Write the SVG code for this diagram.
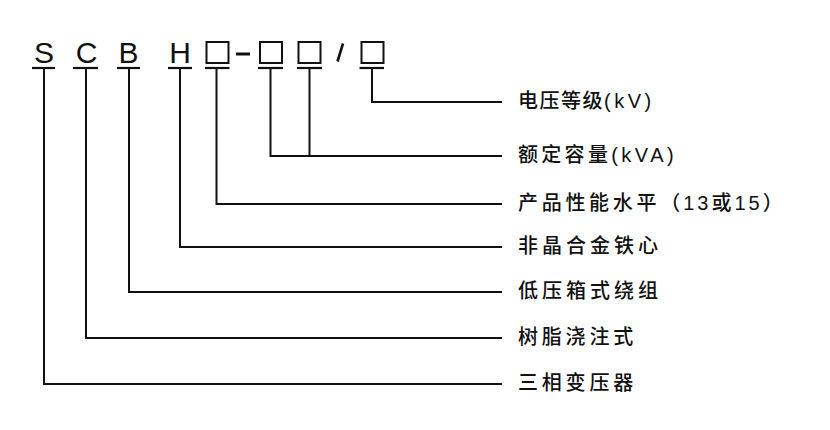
<svg xmlns="http://www.w3.org/2000/svg" width="830" height="430" viewBox="0 0 830 430">
<style>
.code{font-family:"Liberation Sans",Arial,sans-serif;font-size:30px;fill:#111;text-anchor:middle}
.lbl{font-family:"Liberation Sans","Noto Sans CJK SC",sans-serif;font-size:20px;font-weight:500;fill:#111;letter-spacing:4px}
.asc{letter-spacing:3.5px}
.ul{stroke:#111;stroke-width:2.2;fill:none}
.box{stroke:#111;stroke-width:2;fill:none}
.conn{stroke:#111;stroke-width:2;fill:none;stroke-linejoin:miter}
</style>
<rect width="830" height="430" fill="#fff"/>
<g id="code-S"><text class="code" x="44" y="63">S</text><line class="ul" x1="32" y1="68" x2="55" y2="68"/></g>
<g id="code-C"><text class="code" x="86.5" y="63">C</text><line class="ul" x1="73" y1="68" x2="98" y2="68"/></g>
<g id="code-B"><text class="code" x="128.5" y="63">B</text><line class="ul" x1="117" y1="68" x2="140" y2="68"/></g>
<g id="code-H"><text class="code" x="180" y="63">H</text><line class="ul" x1="168" y1="68" x2="192" y2="68"/></g>
<g id="code-box1"><rect class="box" x="206.5" y="42" width="22" height="21"/><line class="ul" x1="205" y1="68" x2="229.5" y2="68"/></g>
<g id="code-dash"><line x1="236" y1="54" x2="250" y2="54" stroke="#111" stroke-width="3"/></g>
<g id="code-box2"><rect class="box" x="260" y="42" width="22" height="21"/><line class="ul" x1="258" y1="68" x2="283" y2="68"/></g>
<g id="code-box3"><rect class="box" x="298.5" y="42" width="22" height="21"/><line class="ul" x1="297" y1="68" x2="322" y2="68"/></g>
<g id="code-slash"><line x1="343" y1="43.5" x2="337.5" y2="61.5" stroke="#111" stroke-width="2.6"/></g>
<g id="code-box4"><rect class="box" x="361.5" y="42" width="22" height="21"/><line class="ul" x1="359.5" y1="68" x2="384" y2="68"/></g>

<g id="connectors">
<polyline class="conn" points="372,68 372,102 502,102"/>
<polyline class="conn" points="270.5,68 270.5,156 502,156"/>
<line class="conn" x1="309.5" y1="68" x2="309.5" y2="156"/>
<polyline class="conn" points="216.5,68 216.5,204 502,204"/>
<polyline class="conn" points="180,68 180,247 502,247"/>
<polyline class="conn" points="129,68 129,292 502,292"/>
<polyline class="conn" points="86,68 86,338 502,338"/>
<polyline class="conn" points="44,68 44,384 502,384"/>
</g>

<g id="label-voltage"><text class="lbl" x="518" y="108" style="letter-spacing:1.5px">电压等级<tspan class="asc">(kV)</tspan></text></g>
<g id="label-capacity"><text class="lbl" x="518" y="162" style="letter-spacing:3.3px">额定容量<tspan class="asc">(kVA)</tspan></text></g>
<g id="label-performance"><text class="lbl" x="518" y="210" style="letter-spacing:3.7px">产品性能水平<tspan style="letter-spacing:3px">（13或15）</tspan></text></g>
<g id="label-amorphous"><text class="lbl" x="518" y="253">非晶合金铁心</text></g>
<g id="label-winding"><text class="lbl" x="518" y="298">低压箱式绕组</text></g>
<g id="label-resin"><text class="lbl" x="518" y="344" style="letter-spacing:3.8px">树脂浇注式</text></g>
<g id="label-threephase"><text class="lbl" x="518" y="390" style="letter-spacing:3.8px">三相变压器</text></g>
</svg>
